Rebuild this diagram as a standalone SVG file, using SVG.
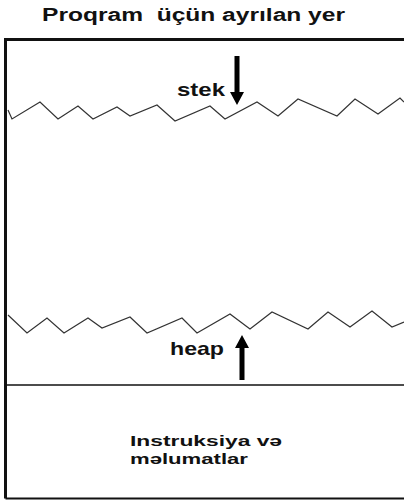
<svg xmlns="http://www.w3.org/2000/svg" width="404" height="500" viewBox="0 0 404 500">
<style>
.lbl{font-family:"Liberation Sans",Arial,sans-serif;font-weight:bold;fill:#111}
.frame{stroke:#111;fill:none}
.zig{stroke:#333;stroke-width:1.2;fill:none;stroke-linejoin:miter}
.arr{fill:#000}
</style>
<rect width="404" height="500" fill="#fff"/>
<g id="title">
<text class="lbl" x="42" y="21" font-size="18" textLength="303" lengthAdjust="spacingAndGlyphs" xml:space="preserve">Proqram  üçün ayrılan yer</text>
</g>
<g id="frame">
<path class="frame" stroke-width="3" d="M5.5,498.5 V39.5 H404"/>
<path class="frame" stroke-width="2" d="M5.5,498.5 H404"/>
</g>
<g id="stack">
<polyline class="zig" points="8,110 12,119 40,102 58,119 78,106 93,119 117,107 130,116 157,105 175,121 210,106 225,119 257,102 278,116 298,99 337,116 355,99 378,114 400,98 404,102"/>
<text class="lbl" x="177" y="96" font-size="19" textLength="48" lengthAdjust="spacingAndGlyphs">stek</text>
</g>
<g id="heap">
<polyline class="zig" points="8,315 27,333 47,318 64,333 88,318 102,328 130,317 147,333 182,318 197,333 230,314 250,329 272,312 308,329 328,312 350,327 372,311 392,327 404,322"/>
<text class="lbl" x="170" y="355" font-size="19" textLength="54" lengthAdjust="spacingAndGlyphs">heap</text>
</g>
<g id="instructions">
<path class="frame" stroke-width="1.6" d="M5.5,385 H404"/>
<text class="lbl" x="130" y="446" font-size="15" textLength="152" lengthAdjust="spacingAndGlyphs">Instruksiya və</text>
<text class="lbl" x="130" y="463.5" font-size="15" textLength="118" lengthAdjust="spacingAndGlyphs">məlumatlar</text>
</g>
<g id="connectors">
<polygon class="arr" points="234.5,56 239.5,56 239.5,92 244,92 237,105 230,92 234.5,92"/>
<polygon class="arr" points="239.5,380 244.5,380 244.5,348 249,348 242,335 235,348 239.5,348"/>
</g>
</svg>
